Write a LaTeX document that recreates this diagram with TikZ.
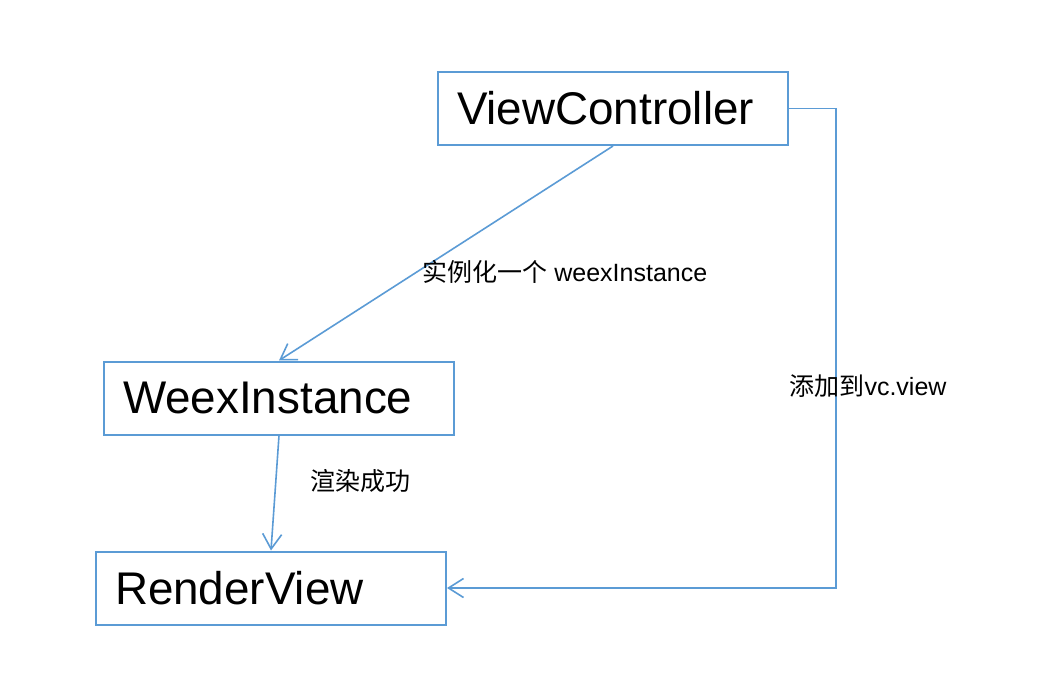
\documentclass[tikz,border=0pt]{standalone}
\usepackage{fontspec}
\setmainfont{Liberation Sans}
\newfontfamily\cjk{Noto Sans CJK SC}
\usepackage{tikz}
\usetikzlibrary{arrows.meta,positioning}

\definecolor{lineblue}{RGB}{91,155,213}

\begin{document}
\begin{tikzpicture}[x=1pt,y=-1pt,
    box/.style={draw=lineblue,line width=2pt,minimum width=350pt,minimum height=73pt,
        text width=312pt,inner xsep=19pt,align=left,font=\fontsize{45.8}{54}\selectfont},
    lbl/.style={font=\fontsize{25}{29}\selectfont,inner sep=0pt},
    flow/.style={draw=lineblue,line width=1.6pt,-{Straight Barb[length=15pt,width=19pt,line width=1.6pt]}}]
    \useasboundingbox (0,0) rectangle (1048,684);
    % boxes
    \node[box] (vc) at (613,108.5) {ViewController};
    \node[box] (wi) at (279,398) {WeexInstance};
    \node[box] (rv) at (271,588) {RenderView};

    \draw[flow] (vc.south) -- node[lbl,pos=0.585,anchor=west,xshift=4pt] {{\cjk 实例化一个} weexInstance} (wi.north);
    \draw[flow] (wi.south) -- node[lbl,pos=0.4,anchor=west,xshift=34pt] {\cjk 渲染成功} (rv.north);
    % elbow back to the render view
    \draw[flow] (vc.east) -- ++(47,0) |- node[lbl,pos=0.29,xshift=32pt] {{\cjk 添加到}vc.view} (rv.east);
\end{tikzpicture}
\end{document}
